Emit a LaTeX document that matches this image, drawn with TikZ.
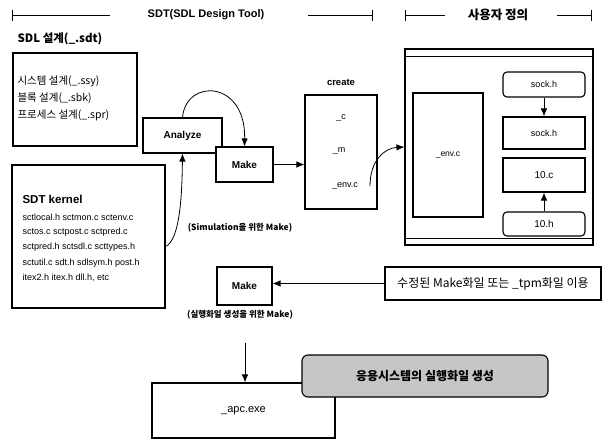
\documentclass[tikz,border=0pt]{standalone}
\usepackage{fontspec}
\setmainfont{Liberation Sans}
\newfontfamily\kr{Noto Sans CJK KR}
\usepackage{tikz}
\usetikzlibrary{arrows.meta,calc,positioning}
\newcommand{\fsz}[1]{\fontsize{#1}{#1}\selectfont}
\tikzset{
  box/.style={draw, line width=1.1pt, fill=white, inner sep=0pt},
  rbox/.style={box, rounded corners=4pt},
  arr/.style={-{Latex[length=8pt,width=6.5pt]}, line width=0.8pt},
  hdr/.style={line width=0.9pt},
}

\begin{document}
\begin{tikzpicture}[x=1pt,y=-1pt]
    \useasboundingbox (0,0) rectangle (603,440);
    % header
    \node (hsdt) at (206,15) {\fsz{11}\bfseries SDT(SDL Design Tool)};
    \node (husr) at (498,15) {\kr\fsz{12.5}\bfseries 사용자 정의};
    \foreach \a/\b in {12/110, 405/445}
        \draw[hdr,{Bar[width=11pt]}-] (\a,15) -- (\b,15);
    \foreach \a/\b in {308/373, 557/592}
        \draw[hdr,-{Bar[width=11pt]}] (\a,15) -- (\b,15);
    % SDL design
    \node[anchor=west] (sdlt) at (14,39) {\kr\fsz{11.5}\bfseries SDL 설계(\_.sdt)};
    \node[box, minimum width=124, minimum height=93] (sdl) at (75,99.5) {};
    \node[anchor=west] (ssy) at (14,81) {\kr\fsz{10.5}시스템 설계(\_.ssy)};
    \node[anchor=west] (sbk) at (14,98) {\kr\fsz{10.5}블록 설계(\_.sbk)};
    \node[anchor=west] (spr) at (14,115) {\kr\fsz{10.5}프로세스 설계(\_.spr)};
    % SDT kernel
    \node[box, minimum width=153, minimum height=143] (kern) at (88.5,236.5) {};
    \node[anchor=west] (kt) at (19,199) {\fsz{11.5}\bfseries SDT kernel};
    \node[anchor=west] (k1) at (19,217) {\fsz{9}sctlocal.h sctmon.c sctenv.c};
    \node[anchor=west] (k2) at (19,232) {\fsz{9}sctos.c sctpost.c sctpred.c};
    \node[anchor=west] (k3) at (19,247) {\fsz{9}sctpred.h sctsdl.c scttypes.h};
    \node[anchor=west] (k4) at (19,263) {\fsz{9}sctutil.c sdt.h sdlsym.h post.h};
    \node[anchor=west] (k5) at (19,278) {\fsz{9}itex2.h itex.h dll.h, etc};
    % analyze and make
    \node[box, minimum width=79, minimum height=35] (an) at (182.5,135.5) {\fsz{10}\bfseries Analyze};
    \node[box, minimum width=57, minimum height=35] (mk1) at (244.5,164.5) {\fsz{10}\bfseries Make};
    \node (simt) at (240,228) {\kr\fsz{8.5}\bfseries (Simulation을 위한 Make)};
    % create
    \node (crt) at (341,82) {\fsz{9.5}\bfseries create};
    \node[box, minimum width=72, minimum height=114] (cbox) at (341,152) {};
    \node (cc) at (341,118) {\fsz{9}\_c};
    \node (cm) at (339,151) {\fsz{9}\_m};
    \node (cenv) at (345,186) {\fsz{9}\_env.c};
    % user defined
    \node[box, minimum width=188, minimum height=196] (usr) at (499,147) {};
    \draw[line width=0.8pt] ([yshift=-8pt]usr.north west) -- ([yshift=-8pt]usr.north east);
    \draw[line width=0.8pt] ([yshift=7pt]usr.south west) -- ([yshift=7pt]usr.south east);
    \node[box, minimum width=70, minimum height=124] (env) at (448,155) {\fsz{8.5}\_env.c};
    \node[rbox, minimum width=82, minimum height=25] (s1) at (544,84.5) {\fsz{9}sock.h};
    \node[box, minimum width=82, minimum height=32] (s2) at (544,133) {\fsz{9}sock.h};
    \node[box, minimum width=82, minimum height=34] (tc) at (544,175) {\fsz{10}10.c};
    \node[rbox, minimum width=82, minimum height=24] (th) at (544,224) {\fsz{10}10.h};
    % executable
    \node[box, minimum width=55, minimum height=38] (mk2) at (244.5,286) {\fsz{10}\bfseries Make};
    \node (exet) at (240,315) {\kr\fsz{8.5}\bfseries (실행화일 생성을 위한 Make)};
    \node[box, minimum width=216, minimum height=33] (tpm) at (493,283.5) {\kr\fsz{12}수정된 Make화일 또는 \_tpm화일 이용};
    \node[box, minimum width=183, minimum height=55] (apc) at (243.5,410.5) {\fsz{11}\_apc.exe};
    \node[rbox, fill=gray!45, minimum width=246, minimum height=42, rounded corners=6pt] (gen) at (425,376) {\kr\fsz{12}\bfseries 응용시스템의 실행화일 생성};
    % connectors
    \coordinate (envout) at (370,186);
    \coordinate (dstart) at (245,343);
    \draw[arr] (an.north) .. controls (186,78) and (246,80) .. (mk1.north);
    \draw[arr] ([yshift=-10pt]kern.east) .. controls (180,240) and (182,195) .. (an.south);
    \draw[arr] (mk1.east) -- (mk1.east -| cbox.west);
    \draw[arr] (envout) .. controls (370,160) and (385,148) .. (usr.west);
    \draw[arr] (s1.south) -- (s2.north);
    \draw[arr] (th.north) -- (tc.south);
    \draw[arr] (tpm.west) -- (tpm.west -| mk2.east);
    \draw[arr] (dstart) -- (dstart |- apc.north);
\end{tikzpicture}
\end{document}
